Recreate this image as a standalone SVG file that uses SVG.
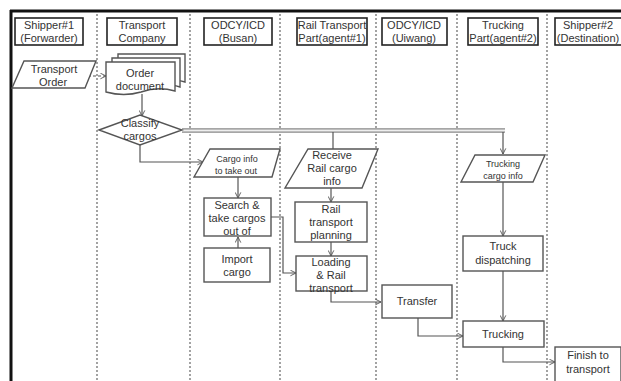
<svg xmlns="http://www.w3.org/2000/svg" width="621" height="381" viewBox="0 0 621 381">
<defs>
<style>
.hdr{fill:#fff;stroke:#222;stroke-width:1.6}
.ht{font-family:"Liberation Sans","DejaVu Sans",sans-serif;font-size:11px;fill:#333;text-anchor:middle}
.nd{fill:#fff;stroke:#555;stroke-width:1.4}
.t{font-family:"Liberation Sans","DejaVu Sans",sans-serif;font-size:11px;fill:#333;text-anchor:middle}
.ts{font-family:"Liberation Sans","DejaVu Sans",sans-serif;font-size:9px;fill:#333;text-anchor:middle}
.lane{stroke:#666;stroke-width:1.2;stroke-dasharray:2,2}
.c{fill:none;stroke:#555;stroke-width:1.2;marker-end:url(#ah)}
.cn{fill:none;stroke:#555;stroke-width:1.2}
</style>
<marker id="ah" viewBox="0 0 10 10" refX="9" refY="5" markerWidth="7" markerHeight="7" orient="auto" markerUnits="userSpaceOnUse">
<path d="M1,1 L9,5 L1,9" fill="none" stroke="#555" stroke-width="1.3"/>
</marker>
</defs>
<rect width="621" height="381" fill="#fff"/>
<g id="frame">
<line x1="10" y1="11" x2="621" y2="11" stroke="#111" stroke-width="3"/>
<line x1="11" y1="10" x2="11" y2="381" stroke="#111" stroke-width="3"/>
</g>
<g id="lanes">
<line class="lane" x1="97" y1="14" x2="97" y2="381"/>
<line class="lane" x1="190" y1="14" x2="190" y2="381"/>
<line class="lane" x1="280" y1="14" x2="280" y2="381"/>
<line class="lane" x1="376" y1="14" x2="376" y2="381"/>
<line class="lane" x1="457" y1="14" x2="457" y2="381"/>
<line class="lane" x1="547" y1="14" x2="547" y2="381"/>
</g>
<g id="h1"><rect class="hdr" x="15" y="18" width="68" height="27"/><text class="ht" x="49" y="29">Shipper#1</text><text class="ht" x="49" y="42">(Forwarder)</text></g>
<g id="h2"><rect class="hdr" x="107" y="18" width="70" height="27"/><text class="ht" x="142" y="29">Transport</text><text class="ht" x="142" y="42">Company</text></g>
<g id="h3"><rect class="hdr" x="204" y="18" width="68" height="27"/><text class="ht" x="238" y="29">ODCY/ICD</text><text class="ht" x="238" y="42">(Busan)</text></g>
<g id="h4"><rect class="hdr" x="297" y="18" width="70" height="27"/><text class="ht" x="332" y="29">Rail Transport</text><text class="ht" x="332" y="42">Part(agent#1)</text></g>
<g id="h5"><rect class="hdr" x="382" y="18" width="65" height="27"/><text class="ht" x="414" y="29">ODCY/ICD</text><text class="ht" x="414" y="42">(Uiwang)</text></g>
<g id="h6"><rect class="hdr" x="468" y="18" width="70" height="27"/><text class="ht" x="503" y="29">Trucking</text><text class="ht" x="503" y="42">Part(agent#2)</text></g>
<g id="h7"><rect class="hdr" x="555" y="18" width="70" height="27"/><text class="ht" x="588" y="29">Shipper#2</text><text class="ht" x="588" y="42">(Destination)</text></g>

<g id="connectors">
<line x1="88" y1="76" x2="106" y2="76" class="c" stroke-dasharray="3,2"/>
<line x1="142" y1="94" x2="142" y2="116" class="c"/>
<polyline points="140,145 140,162 203,162" class="c"/>
<line x1="182" y1="130.5" x2="505" y2="130.5" stroke="#888" stroke-width="4.5"/>
<line x1="182" y1="130.5" x2="505" y2="130.5" stroke="#eee" stroke-width="1.8"/>
<line x1="503" y1="132" x2="503" y2="154" class="c"/>
<line x1="333" y1="132" x2="333" y2="149" class="cn"/>
<line x1="238" y1="177" x2="238" y2="198" class="c"/>
<line x1="238" y1="248" x2="238" y2="237" class="c"/>
<polyline points="271,217 283,217 283,273 296,273" class="c"/>
<line x1="331" y1="188" x2="331" y2="202" class="c"/>
<line x1="331" y1="242" x2="331" y2="256" class="c"/>
<polyline points="331,291 331,302 381,302" class="c"/>
<polyline points="418,318 418,336 463,336" class="c"/>
<line x1="503" y1="182" x2="503" y2="236" class="c"/>
<line x1="503" y1="271" x2="503" y2="321" class="c"/>
<polyline points="503,347 503,362 555,362" class="c"/>
</g>

<g id="n-transport-order"><polygon class="nd" points="24,61 96,61 85,88 12,88"/><text class="t" x="54" y="73">Transport</text><text class="t" x="53" y="86">Order</text></g>
<g id="n-order-document">
<path class="nd" d="M118,54 H185 V82 Q176,79 170,82 L118,82 Z"/>
<path class="nd" d="M112,58 H180 V87 Q172,84 166,87 L112,87 Z"/>
<path class="nd" d="M106,62 H175 V91 Q158,86 141,92 Q124,97 106,92 Z"/>
<text class="t" x="140" y="77">Order</text><text class="t" x="140" y="90">document</text></g>
<g id="n-classify"><polygon class="nd" points="99,130 140,115 182,130 140,145"/><text class="t" x="140" y="127">Classify</text><text class="t" x="140" y="140">cargos</text></g>
<g id="n-cargo-info"><polygon class="nd" points="210,149 280,149 272,177 194,177"/><text class="ts" x="237" y="162">Cargo info</text><text class="ts" x="236" y="174">to take out</text></g>
<g id="n-search"><rect class="nd" x="204" y="198" width="67" height="38"/><text class="t" x="237" y="209">Search &amp;</text><text class="t" x="237" y="222">take cargos</text><text class="t" x="237" y="235">out of</text></g>
<g id="n-import"><rect class="nd" x="204" y="248" width="66" height="34"/><text class="t" x="237" y="263">Import</text><text class="t" x="237" y="276">cargo</text></g>
<g id="n-receive"><polygon class="nd" points="308,149 378,149 362,188 285,188"/><text class="t" x="332" y="159">Receive</text><text class="t" x="332" y="172">Rail cargo</text><text class="t" x="332" y="185">info</text></g>
<g id="n-planning"><rect class="nd" x="295" y="202" width="72" height="40"/><text class="t" x="331" y="213">Rail</text><text class="t" x="331" y="226">transport</text><text class="t" x="331" y="239">planning</text></g>
<g id="n-loading"><rect class="nd" x="296" y="256" width="71" height="35"/><text class="t" x="331" y="266">Loading</text><text class="t" x="331" y="279">&amp; Rail</text><text class="t" x="331" y="292">transport</text></g>
<g id="n-transfer"><rect class="nd" x="382" y="285" width="70" height="33"/><text class="t" x="417" y="305">Transfer</text></g>
<g id="n-trucking-info"><polygon class="nd" points="475,155 545,155 533,182 461,182"/><text class="ts" x="503" y="167">Trucking</text><text class="ts" x="503" y="179">cargo info</text></g>
<g id="n-dispatch"><rect class="nd" x="463" y="236" width="80" height="35"/><text class="t" x="503" y="250">Truck</text><text class="t" x="503" y="264">dispatching</text></g>
<g id="n-trucking"><rect class="nd" x="463" y="321" width="81" height="26"/><text class="t" x="503" y="338">Trucking</text></g>
<g id="n-finish"><rect class="nd" x="555" y="347" width="66" height="36"/><text class="t" x="588" y="359">Finish to</text><text class="t" x="588" y="373">transport</text></g>
</svg>
